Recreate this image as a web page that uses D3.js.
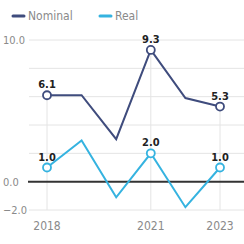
<!DOCTYPE html>
<html>
<head>
<meta charset="utf-8">
<script src="https://cdn.jsdelivr.net/npm/d3@7"></script>
<style>
  html, body { margin: 0; padding: 0; background: #fff; }
  svg { display: block; }
</style>
</head>
<body>
<div id="chart"></div>
<script>
const years = [2018, 2019, 2020, 2021, 2022, 2023]
const nominal = [6.1, 6.1, 3.0, 9.3, 5.9, 5.3]
const real = [1.0, 2.9, -1.1, 2.0, -1.8, 1.0]
const labelYears = [2018, 2021, 2023]
const gridValues = [-2, 0, 2, 4, 6, 8, 10]
const tickLabels = [-2, 0, 10]

const width = 244
const height = 244
const colors = { nominal: '#3f4c7d', real: '#35b3e0', grid: '#e4e4e4', zero: '#333', text: '#8a8a8a', label: '#222' }
const font = '"Liberation Sans Narrow", "DejaVu Sans Condensed", sans-serif'

const svg = d3.select('#chart').append('svg').attr('width', width).attr('height', height)

const x = d3.scaleLinear().domain([2018, 2023]).range([47, 220])
const y = d3.scaleLinear().domain([-2, 10]).range([210, 40])

// legend
const legend = [{ name: 'Nominal', color: colors.nominal, x: 13 }, { name: 'Real', color: colors.real, x: 100 }]
legend.forEach(d => {
  svg.append('line').attr('x1', d.x).attr('x2', d.x + 11).attr('y1', 16).attr('y2', 16)
    .attr('stroke', d.color).attr('stroke-width', 3).attr('stroke-linecap', 'round')
  svg.append('text').attr('x', d.x + 15).attr('y', 20).text(d.name)
    .attr('font-family', font).attr('font-size', 12).attr('fill', colors.text)
})

// grid
svg.append('g').selectAll('line').data(gridValues.filter(v => v !== 0)).join('line')
  .attr('x1', 29).attr('x2', width).attr('y1', d => y(d)).attr('y2', d => y(d))
  .attr('stroke', colors.grid).attr('stroke-width', 1)

svg.append('g').selectAll('line').data(labelYears).join('line')
  .attr('x1', d => x(d)).attr('x2', d => x(d))
  .attr('y1', d => y(nominal[years.indexOf(d)])).attr('y2', y(-2))
  .attr('stroke', colors.grid).attr('stroke-width', 1)

svg.append('line').attr('x1', 28).attr('x2', width).attr('y1', y(0)).attr('y2', y(0))
  .attr('stroke', colors.zero).attr('stroke-width', 2)

// y tick labels
svg.append('g').selectAll('text').data(tickLabels).join('text')
  .attr('x', 3).attr('y', d => y(d) + 4).text(d => d3.format('.1f')(d))
  .attr('font-family', font).attr('font-size', 11).attr('fill', colors.text)

// x tick labels
svg.append('g').selectAll('text').data(labelYears).join('text')
  .attr('x', d => x(d)).attr('y', 230).attr('text-anchor', 'middle').text(d => d)
  .attr('font-family', font).attr('font-size', 12).attr('fill', colors.text)

const line = d3.line().x((d, i) => x(years[i])).y(d => y(d))

const series = [{ values: nominal, color: colors.nominal }, { values: real, color: colors.real }]
series.forEach(s => {
  svg.append('path').attr('d', line(s.values)).attr('fill', 'none')
    .attr('stroke', s.color).attr('stroke-width', 2).attr('stroke-linejoin', 'miter')
  const pts = labelYears.map(yr => ({ yr, v: s.values[years.indexOf(yr)] }))
  svg.append('g').selectAll('circle').data(pts).join('circle')
    .attr('cx', d => x(d.yr)).attr('cy', d => y(d.v)).attr('r', 4)
    .attr('fill', '#fff').attr('stroke', s.color).attr('stroke-width', 1.8)
  svg.append('g').selectAll('text').data(pts).join('text')
    .attr('x', d => x(d.yr)).attr('y', d => y(d.v) - 7).attr('text-anchor', 'middle')
    .text(d => d3.format('.1f')(d.v))
    .attr('font-family', font).attr('font-size', 11).attr('font-weight', 'bold').attr('fill', colors.label)
})
</script>
</body>
</html>
